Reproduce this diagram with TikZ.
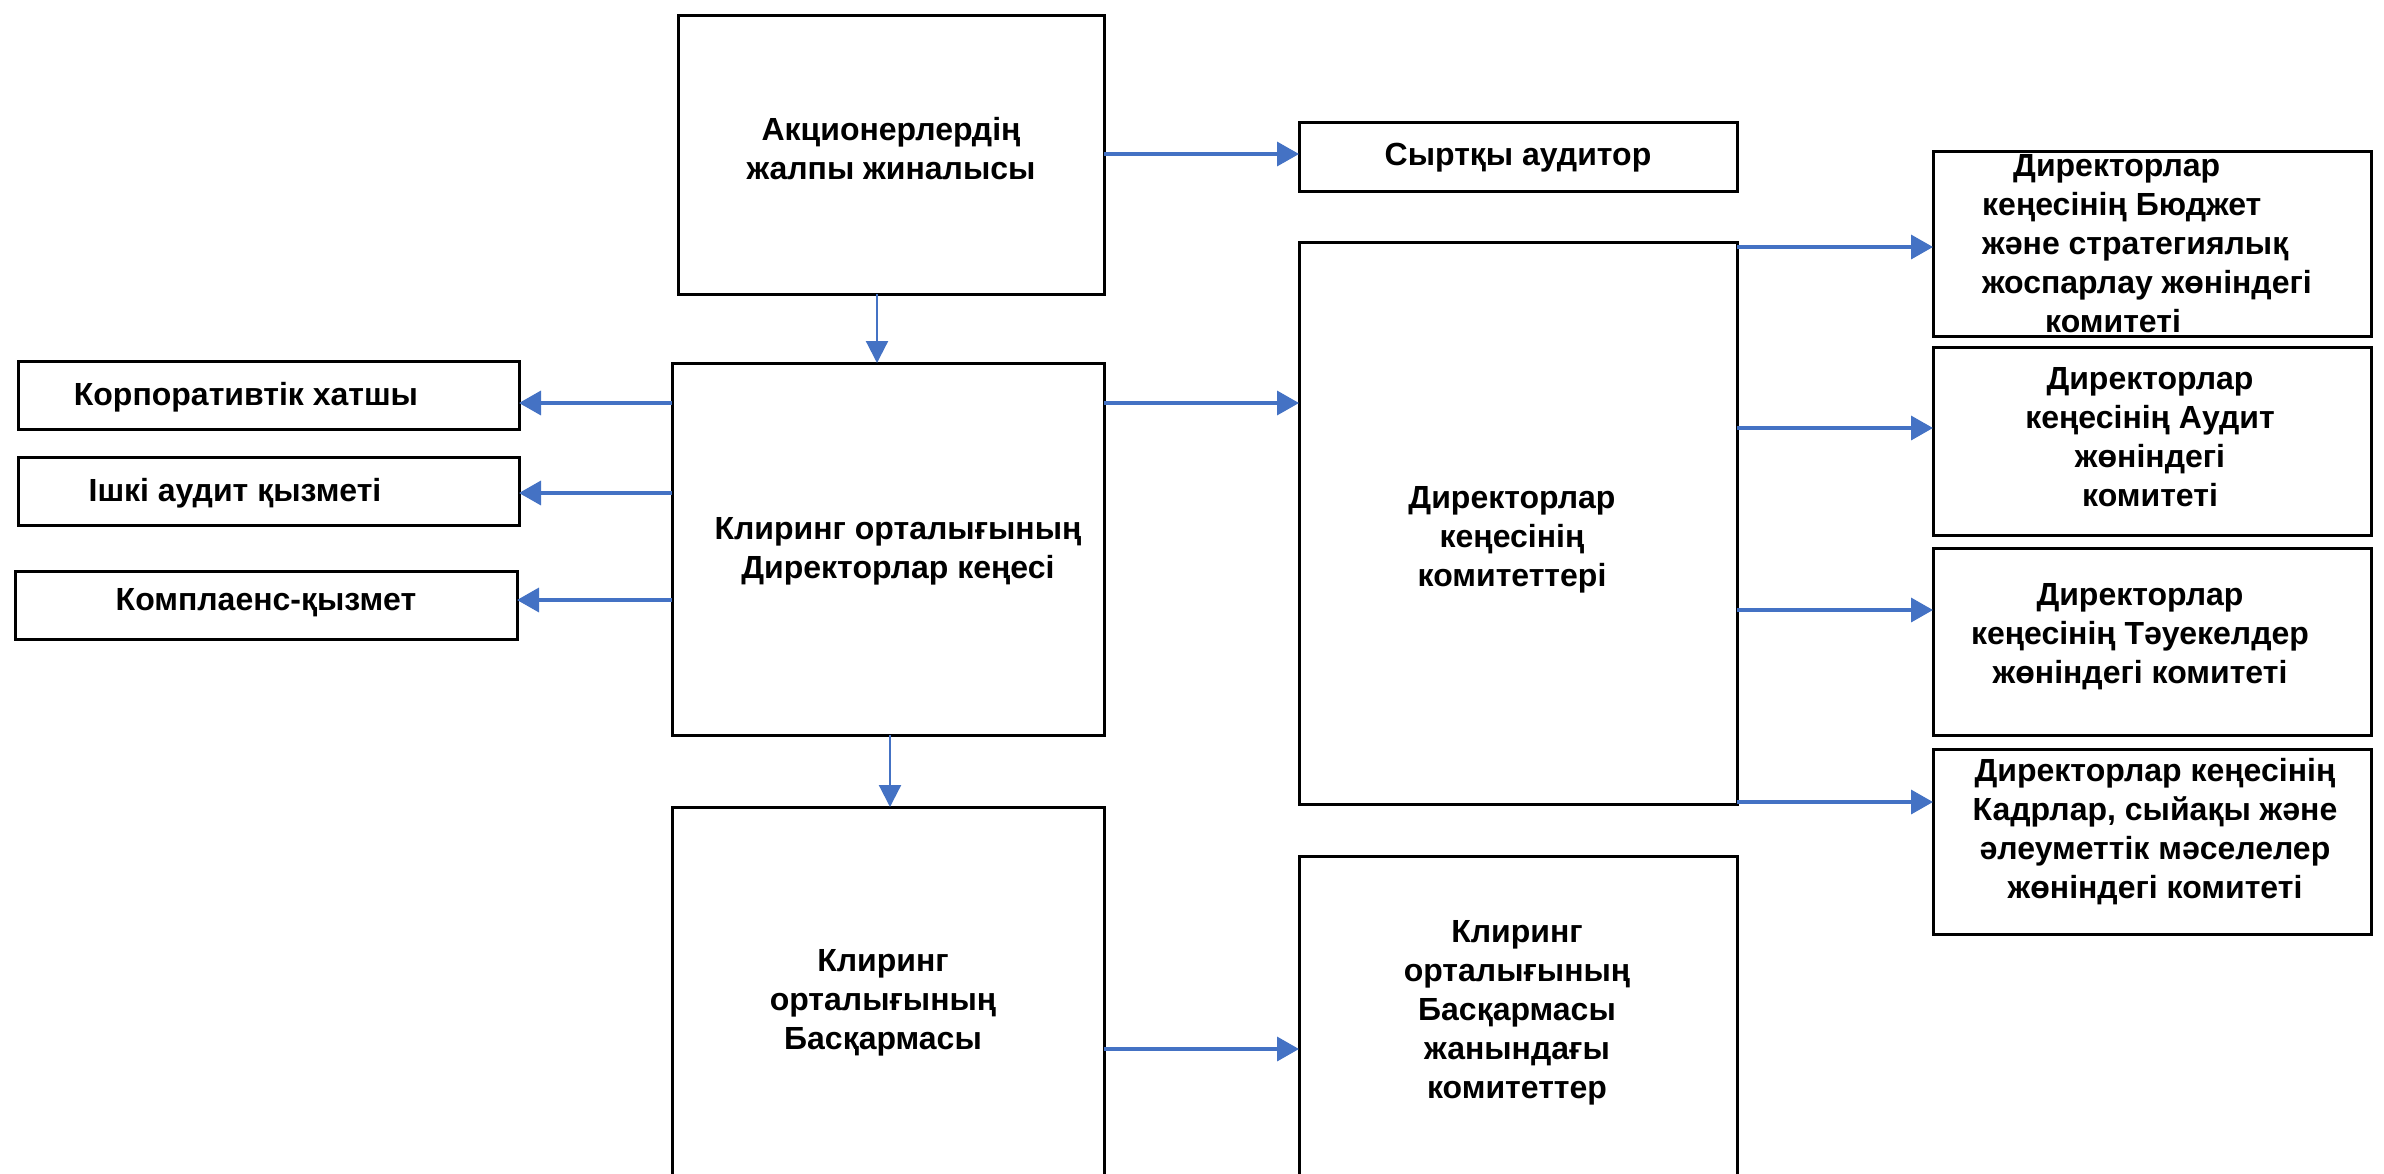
\documentclass[tikz,border=0pt]{standalone}
\usepackage{fontspec}
\setmainfont{Liberation Sans}
\usetikzlibrary{arrows.meta}
\definecolor{arrblue}{HTML}{4472C4}
\tikzset{
  box/.style={draw=black, line width=3, fill=white, anchor=north west, inner sep=0, outer sep=0},
  txt/.style={align=center, inner sep=0, font=\fontsize{32}{39}\selectfont\bfseries},
  harr/.style={draw=arrblue, line width=3.5, -{Triangle[length=22,width=24]}},
  varr/.style={draw=arrblue, line width=2.2, -{Triangle[length=22,width=22]}}
}
\begin{document}
\begin{tikzpicture}[x=1pt,y=-1pt]
\useasboundingbox (0,0) rectangle (2384,1173);
\clip (0,0) rectangle (2384,1173);
\fill[white] (0,0) rectangle (2384,1173);
% boxes
\node[box, minimum width=426, minimum height=279] (shar) at (678,15) {};
\node[box, minimum width=438, minimum height=69] (ext) at (1299,122) {};
\node[box, minimum width=438, minimum height=562] (comm) at (1299,242) {};
\node[box, minimum width=438, minimum height=185] (bud) at (1933,151) {};
\node[box, minimum width=438, minimum height=188] (aud) at (1933,347) {};
\node[box, minimum width=438, minimum height=187] (risk) at (1933,548) {};
\node[box, minimum width=438, minimum height=185] (hr) at (1933,749) {};
\node[box, minimum width=501, minimum height=68] (corp) at (18,361) {};
\node[box, minimum width=501, minimum height=68] (inaud) at (18,457) {};
\node[box, minimum width=502, minimum height=68] (compl) at (15,571) {};
\node[box, minimum width=432, minimum height=372] (board) at (672,363) {};
\node[box, minimum width=432, minimum height=420] (mgmt) at (672,807) {};
\node[box, minimum width=438, minimum height=380] (mcom) at (1299,856) {};
% texts
\node[txt] (tshar) at (891,149) {Акционерлердің\\жалпы жиналысы};
\node[txt] (text) at (1518,158) {Сыртқы аудитор};
\node[txt] (tcomm) at (1512,540) {Директорлар\\кеңесінің\\комитеттері};
\node[txt] (tboard) at (898,551) {Клиринг орталығының\\Директорлар кеңесі};
\node[txt] (tcorp) at (246,397) {Корпоративтік хатшы};
\node[txt] (tinaud) at (235,493) {Ішкі аудит қызметі};
\node[txt] (tcompl) at (266,603) {Комплаенс-қызмет};
\node[txt, align=left, anchor=west] (tbud) at (1982,244) {\hspace*{31pt}Директорлар\\кеңесінің Бюджет\\және стратегиялық\\жоспарлау жөніндегі\\\hspace*{63pt}комитеті};
\node[txt] (taud) at (2150,437) {Директорлар\\кеңесінің Аудит\\жөніндегі\\комитеті};
\node[txt] (trisk) at (2140,637) {Директорлар\\кеңесінің Тәуекелдер\\жөніндегі комитеті};
\node[txt] (thr) at (2155,832) {Директорлар кеңесінің\\Кадрлар, сыйақы және\\әлеуметтік мәселелер\\жөніндегі комитеті};
\node[txt] (tmgmt) at (883,1003) {Клиринг\\орталығының\\Басқармасы};
\node[txt] (tmcom) at (1517,1013) {Клиринг\\орталығының\\Басқармасы\\жанындағы\\комитеттер};
% connectors
\draw[harr] (shar.east |- 0,154) -- (ext.west |- 0,154);
\draw[varr] (shar.south -| 877,0) -- (board.north -| 877,0);
\draw[harr] (board.west |- 0,403) -- (corp.east |- 0,403);
\draw[harr] (board.west |- 0,493) -- (inaud.east |- 0,493);
\draw[harr] (board.west |- 0,600) -- (compl.east |- 0,600);
\draw[harr] (board.east |- 0,403) -- (comm.west |- 0,403);
\draw[varr] (board.south -| 890,0) -- (mgmt.north -| 890,0);
\draw[harr] (comm.east |- 0,247) -- (bud.west |- 0,247);
\draw[harr] (comm.east |- 0,428) -- (aud.west |- 0,428);
\draw[harr] (comm.east |- 0,610) -- (risk.west |- 0,610);
\draw[harr] (comm.east |- 0,802) -- (hr.west |- 0,802);
\draw[harr] (mgmt.east |- 0,1049) -- (mcom.west |- 0,1049);
\end{tikzpicture}
\end{document}
